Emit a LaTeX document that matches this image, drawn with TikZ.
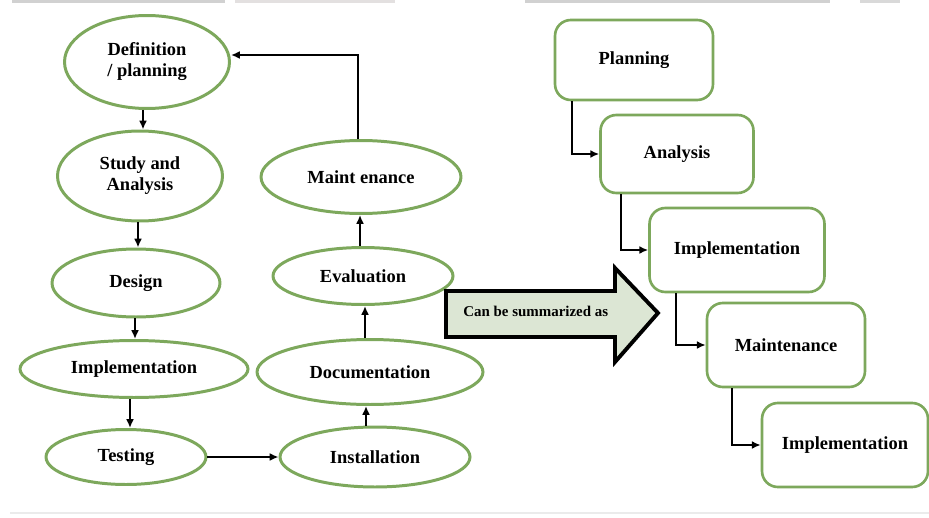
\documentclass[tikz,border=0pt]{standalone}
\usepackage{fontspec}
\setmainfont{Liberation Serif}
\usetikzlibrary{positioning,calc,shapes.geometric,arrows.meta}
\definecolor{leaf}{HTML}{7DA85C}
\definecolor{arrowfill}{HTML}{DCE6D4}
\tikzset{
  phase/.style={ellipse, draw=leaf, line width=1.7pt, fill=white, inner sep=0pt,
    font=\fontsize{10.5}{12}\selectfont\bfseries, align=center},
  stage/.style={rectangle, rounded corners=9pt, draw=leaf, line width=1.5pt, fill=white,
    font=\fontsize{10.5}{12}\selectfont\bfseries},
  flow/.style={-{Latex[length=5pt,width=4.5pt]}, line width=1.2pt},
}
\begin{document}
\begin{tikzpicture}[x=0.02cm, y=-0.02cm]
    \useasboundingbox (0,0) rectangle (929,517);
    \fill[black!18] (12,0) rectangle (225,3);
    \fill[red!10!black!12] (235,0) rectangle (395,3);
    \fill[black!18] (525,0) rectangle (830,3);
    \fill[black!15] (860,0) rectangle (900,3);
    \draw[black!8, line width=0.6pt] (10,513) -- (929,513);
    % waterfall cycle
    \node[phase, minimum width=3.30cm, minimum height=1.86cm] at (147,62) (define) {Definition\\/ planning};
    \node[phase, minimum width=3.30cm, minimum height=1.80cm] at (140,176) (study) {Study and\\Analysis};
    \node[phase, minimum width=3.36cm, minimum height=1.36cm] at (136,283) (design) {Design};
    \node[phase, minimum width=4.56cm, minimum height=1.14cm] at (134,369) (impl) {Implementation};
    \node[phase, minimum width=3.20cm, minimum height=1.10cm] at (126,457) (test) {Testing};
    \node[phase, minimum width=3.80cm, minimum height=1.20cm] at (375,457) (install) {Installation};
    \node[phase, minimum width=4.52cm, minimum height=1.30cm] at (370,372) (doc) {Documentation};
    \node[phase, minimum width=3.60cm, minimum height=1.14cm] at (363,276) (eval) {Evaluation};
    \node[phase, minimum width=4.00cm, minimum height=1.46cm] at (361,177) (maint) {Maint enance};
    \draw[flow] (define.south -| 143,0) -- (study.north -| 143,0);
    \draw[flow] (study.south -| 138,0) -- (design.north -| 138,0);
    \draw[flow] (design.south -| 135,0) -- (impl.north -| 135,0);
    \draw[flow] (impl.south -| 130,0) -- (test.north -| 130,0);
    \draw[flow] (test.east) -- (install.west);
    \draw[flow] (install.north -| 366,0) -- (doc.south -| 366,0);
    \draw[flow] (doc.north -| 365,0) -- (eval.south -| 365,0);
    \draw[flow] (eval.north -| 360,0) -- (maint.south -| 360,0);
    \draw[flow] (maint.north -| 358,0) |- (define.east |- 0,55);
    % summary arrow
    \coordinate (a1) at (446,291);
    \coordinate (a2) at (615,291);
    \coordinate (a3) at (615,268);
    \coordinate (tip) at (658,313);
    \coordinate (a4) at (615,362);
    \coordinate (a5) at (615,337);
    \coordinate (a6) at (446,337);
    \draw[fill=arrowfill, line width=2.2pt, line join=miter] (a1) -- (a2) -- (a3) -- (tip) -- (a4) -- (a5) -- (a6) -- cycle;
    \node[anchor=west, font=\fontsize{8.5}{10}\selectfont\bfseries, inner sep=0pt] at (463,311) (sumtext) {Can be summarized as};
    % summarized stages
    \node[stage, minimum width=3.16cm, minimum height=1.60cm] at (634,60) (plan) {Planning};
    \node[stage, minimum width=3.06cm, minimum height=1.56cm] at (677,154) (ana) {Analysis};
    \node[stage, minimum width=3.50cm, minimum height=1.68cm] at (737,250) (impltwo) {Implementation};
    \node[stage, minimum width=3.16cm, minimum height=1.68cm] at (786,345) (mainttwo) {Maintenance};
    \node[stage, minimum width=3.32cm, minimum height=1.68cm] at (845,445) (implthree) {Implementation};
    \draw[flow] ($(plan.south west)+(18,0)$) |- (ana.west);
    \draw[flow] ($(ana.south west)+(22,0)$) |- (impltwo.west);
    \draw[flow] ($(impltwo.south west)+(28,0)$) |- (mainttwo.west);
    \draw[flow] ($(mainttwo.south west)+(26,0)$) |- (implthree.west);
\end{tikzpicture}
\end{document}
